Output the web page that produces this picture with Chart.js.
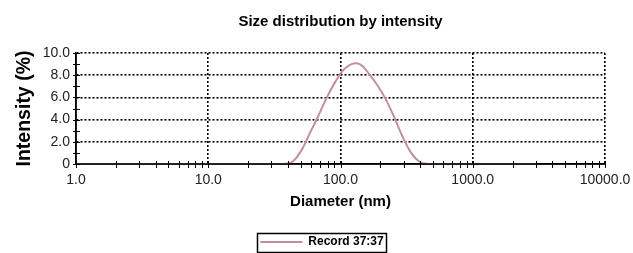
<!DOCTYPE html>
<html>
<head>
<meta charset="utf-8">
<script src="https://cdn.jsdelivr.net/npm/chart.js@4/dist/chart.umd.min.js"></script>
<style>
html,body{margin:0;padding:0;background:#fff;}
canvas{display:block;}
</style>
</head>
<body>
<canvas id="c" width="633" height="253"></canvas>
<script>
// ---- data ----
const diameters = [1.0, 32.67, 37.84, 43.82, 50.75, 58.77, 68.06, 78.82, 91.28, 105.7, 122.4, 141.8, 164.2, 190.1, 220.2, 255.0, 295.3, 342.0, 396.1, 458.7, 531.2, 3000];
const intensity = [0, 0, 0, 0.25, 1.25, 2.8, 4.35, 6.0, 7.4, 8.5, 9.02, 8.95, 8.12, 7.1, 5.82, 4.2, 2.45, 1.0, 0.2, 0, 0, 0];
const seriesName = 'Record 37:37';
const xTickValues = [1, 10, 100, 1000, 10000];
const yTickValues = [0, 2, 4, 6, 8, 10];

const LINE_COLOR = '#c2909a';
const FONT = 'Arial, "Liberation Sans", sans-serif';

// minor ticks for log axis (1..9 per decade)
function logMinorTicks(min, max) {
  const out = [];
  for (let d = min; d < max; d *= 10) {
    for (let k = 1; k < 10; k++) out.push(d * k);
  }
  out.push(max);
  return out;
}

const crossTicks = {
  id: 'crossTicks',
  afterLayout(chart) {
    // centre the legend box where the reference has it
    const lg = chart.legend;
    if (lg) {
      const w = lg.right - lg.left;
      const centre = 322;
      lg.left = centre - w / 2;
      lg.right = centre + w / 2;
    }
  },
  afterDatasetsDraw(chart) {
    const ctx = chart.ctx, area = chart.chartArea;
    const xs = chart.scales.x, ys = chart.scales.y;
    ctx.save();
    ctx.strokeStyle = '#000';
    ctx.lineWidth = 1.5;
    ctx.beginPath();
    ctx.moveTo(area.left, area.top);
    ctx.lineTo(area.left, area.bottom);
    ctx.lineTo(area.right, area.bottom);
    ctx.stroke();
    ctx.lineWidth = 1;
    xs.ticks.forEach(t => {
      const px = Math.round(xs.getPixelForValue(t.value)) + 0.5;
      ctx.beginPath();
      ctx.moveTo(px, area.bottom - 3);
      ctx.lineTo(px, area.bottom + 4);
      ctx.stroke();
    });
    ys.ticks.forEach(t => {
      const py = Math.round(ys.getPixelForValue(t.value)) + 0.5;
      ctx.beginPath();
      ctx.moveTo(area.left - 3, py);
      ctx.lineTo(area.left + 4, py);
      ctx.stroke();
    });
    ctx.restore();
  }
};

const legendBorder = {
  id: 'legendBorder',
  afterDraw(chart) {
    const lg = chart.legend;
    if (!lg || !lg.legendHitBoxes || !lg.legendHitBoxes.length) return;
    const hb = lg.legendHitBoxes[0];
    const ctx = chart.ctx;
    const cy = hb.top + hb.height / 2;
    ctx.save();
    ctx.strokeStyle = '#000';
    ctx.lineWidth = 1.5;
    ctx.strokeRect(Math.round(hb.left - 3) + 0.5, Math.round(cy - 9.5) + 0.5, Math.round(hb.width + 6), 19);
    ctx.restore();
  }
};

new Chart(document.getElementById('c'), {
  type: 'line',
  data: {
    datasets: [{
      label: seriesName,
      data: diameters.map((d, i) => ({x: d, y: intensity[i]})),
      borderColor: LINE_COLOR,
      backgroundColor: LINE_COLOR,
      borderWidth: 2,
      pointRadius: 0,
      tension: 0.4,
      fill: false
    }]
  },
  options: {
    responsive: false,
    animation: false,
    layout: {padding: {left: 0, right: 28, top: 0, bottom: -5}},
    plugins: {
      title: {
        display: true,
        fullSize: false,
        text: 'Size distribution by intensity',
        color: '#000',
        font: {family: FONT, size: 15, weight: 'bold'},
        padding: {top: 13, bottom: 22}
      },
      legend: {
        display: true,
        position: 'bottom',
        labels: {
          usePointStyle: true,
          pointStyle: 'line',
          pointStyleWidth: 42,
          color: '#000',
          font: {family: FONT, size: 12, weight: 'bold'},
          padding: 4
        }
      },
      tooltip: {enabled: false}
    },
    scales: {
      x: {
        type: 'logarithmic',
        min: 1,
        max: 10000,
        afterBuildTicks(scale) {
          scale.ticks = logMinorTicks(1, 10000).map(v => ({value: v}));
        },
        afterFit(scale) { scale.height = 68; scale.paddingLeft = 0; scale.paddingRight = 0; },
        ticks: {
          autoSkip: false,
          maxRotation: 0,
          color: '#222',
          font: {family: FONT, size: 14},
          padding: 8,
          callback(v) { return xTickValues.includes(v) ? v.toFixed(1) : ''; }
        },
        grid: {
          drawTicks: false,
          lineWidth: 1.6,
          color(ctx) {
            const v = ctx.tick && ctx.tick.value;
            return (xTickValues.includes(v) && v !== 1) ? '#000' : 'rgba(0,0,0,0)';
          }
        },
        border: {display: true, color: '#000', width: 1.5, dash: [2, 2]},
        title: {
          display: true,
          text: 'Diameter (nm)',
          color: '#000',
          font: {family: FONT, size: 15, weight: 'bold'},
          padding: {top: 0, bottom: 21}
        }
      },
      y: {
        type: 'linear',
        min: 0,
        max: 10,
        afterBuildTicks(scale) {
          const t = [];
          for (let v = 0; v <= 10; v++) t.push({value: v});
          scale.ticks = t;
        },
        afterFit(scale) { scale.width = 76; scale.paddingTop = 0; scale.paddingBottom = 0; },
        ticks: {
          autoSkip: false,
          color: '#222',
          font: {family: FONT, size: 14},
          padding: 6,
          callback(v) {
            if (!yTickValues.includes(v)) return '';
            return v === 0 ? '0' : v.toFixed(1);
          }
        },
        grid: {
          drawTicks: false,
          lineWidth: 1.6,
          color(ctx) {
            const v = ctx.tick && ctx.tick.value;
            return (yTickValues.includes(v) && v !== 0) ? '#000' : 'rgba(0,0,0,0)';
          }
        },
        border: {display: true, color: '#000', width: 1.5, dash: [2, 2]},
        title: {
          display: true,
          text: 'Intensity (%)',
          color: '#000',
          font: {family: FONT, size: 19.5, weight: 'bold'},
          padding: {top: 13, bottom: 0}
        }
      }
    }
  },
  plugins: [crossTicks, legendBorder]
});
</script>
</body>
</html>
